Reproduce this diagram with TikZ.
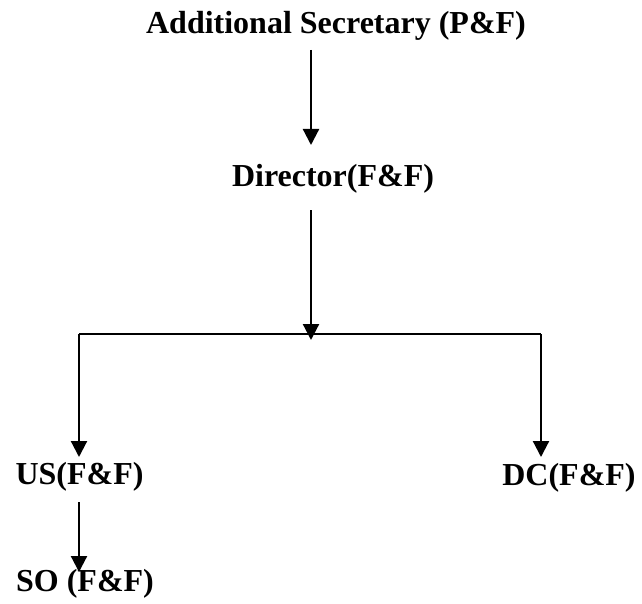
\documentclass[tikz,border=0pt]{standalone}
\usepackage{fontspec}
\setmainfont{Liberation Serif}
\usetikzlibrary{arrows.meta}
\begin{document}
\begin{tikzpicture}[x=1pt,y=-1pt,
  lbl/.style={inner sep=0pt,anchor=base,font=\fontsize{32}{38}\selectfont\bfseries},
  conn/.style={line width=2.2pt},
  arr/.style={conn,-{Triangle[width=16pt,length=16pt]}}]
\useasboundingbox (0,0) rectangle (642,604);
\node[lbl] (t) at (336,34) {Additional Secretary (P\&F)};
\node[lbl] (d) at (333,186) {Director(F\&F)};
\node[lbl] (us) at (79.5,484) {US(F\&F)};
\node[lbl] (dc) at (569,485) {DC(F\&F)};
\node[lbl] (so) at (85,591) {SO (F\&F)};
\coordinate (a1s) at (311,50);
\coordinate (a1e) at (311,145);
\coordinate (a2s) at (311,210);
\coordinate (a2e) at (311,340);
\coordinate (jl) at (79,334);
\coordinate (jr) at (541,334);
\coordinate (ule) at (79,457);
\coordinate (dce) at (541,457);
\coordinate (us2) at (79,502);
\coordinate (soe) at (79,572);
\draw[arr] (a1s) -- (a1e);
\draw[arr] (a2s) -- (a2e);
\draw[conn] (jl) -- (jr);
\draw[arr] (jl) -- (ule);
\draw[arr] (jr) -- (dce);
\draw[arr] (us2) -- (soe);
\end{tikzpicture}
\end{document}
